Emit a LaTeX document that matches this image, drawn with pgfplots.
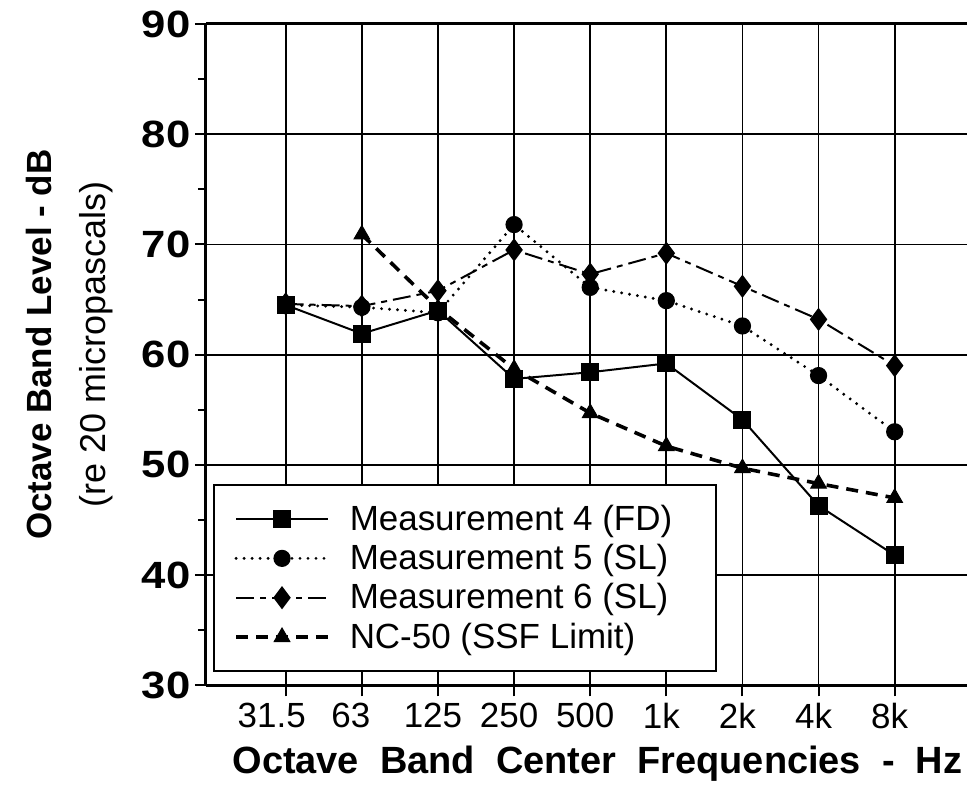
\documentclass[border=0pt]{standalone}
\usepackage{fontspec}
\setmainfont{Liberation Sans}
\usepackage{pgfplots}
\pgfplotsset{compat=1.18}

\begin{document}
\begin{tikzpicture}
\begin{axis}[
  scale only axis, width=381pt, height=331pt,
  xmin=-1.05, xmax=8.95, ymin=30, ymax=90,
  axis x line*=box, axis y line*=left,
  axis line style={line width=1.5pt},
  xtick={0,...,8},
  xticklabels={31.5\hspace*{9pt},63\hspace*{6pt},125,250,500,1k,2k,4k,8k},
  ytick={30,40,...,90}, minor ytick={35,45,...,85},
  xtick pos=left, ytick pos=left,
  tick align=outside, major tick length=5.5pt, minor tick length=4pt,
  tick style={black, line width=1pt},
  grid=major, grid style={black, line width=0.9pt},
  /pgf/number format/assume math mode=true,
  xticklabel style={font=\fontsize{17.5}{20}\selectfont, xshift=-2.5pt},
  yticklabel style={font=\fontsize{19}{20}\bfseries\selectfont, inner sep=2pt},
  yticklabel={\scalebox{1.15}[1]{\pgfmathprintnumber{\tick}}},
  xlabel={Octave\ \ Band\ \ Center\ \ Frequencies\ \ -\ \ Hz},
  xlabel style={font=\fontsize{19}{22}\bfseries\selectfont, at={(axis description cs:0.5145,0)},
    anchor=north, inner sep=0pt, yshift=-30pt},
  ylabel={\fontsize{17.5}{27}\bfseries\selectfont Octave Band Level - dB\\(re 20 micropascals)},
  ylabel style={font=\fontsize{18}{27}\selectfont, align=center, at={(axis description cs:-0.122,0.515)},
    anchor=south, inner sep=0pt},
  legend image code/.code={\draw[mark repeat=2,mark phase=2] plot coordinates {(0pt,0pt) (23pt,0pt) (46pt,0pt)};},
  legend cell align=left,
  legend style={at={(axis description cs:0.01,0.02)}, anchor=south west,
    draw=black, line width=0.9pt, fill=white, font=\fontsize{17.5}{20}\selectfont,
    row sep=1.5pt, column sep=8pt, inner xsep=10pt, inner ysep=8pt},
]
\addplot[black, line width=1pt, mark=square*, mark size=4pt]
  coordinates {(0,64.5) (1,61.9) (2,64.0) (3,57.8) (4,58.4) (5,59.2) (6,54.1) (7,46.3) (8,41.8)};
\addlegendentry{Measurement 4 (FD)\hspace*{10pt}}
\addplot[black, line width=1.6pt, line cap=round, dash pattern=on 0pt off 4pt, mark=*, mark size=3.5pt, mark options={solid}]
  coordinates {(0,64.5) (1,64.3) (2,63.8) (3,71.8) (4,66.1) (5,64.9) (6,62.6) (7,58.1) (8,53.0)};
\addlegendentry{Measurement 5 (SL)}
\addplot[black, line width=1pt, dash pattern=on 9pt off 3pt on 3pt off 3pt, mark=diamond*, mark size=5pt, mark options={solid}]
  coordinates {(0,64.6) (1,64.4) (2,65.8) (3,69.5) (4,67.3) (5,69.2) (6,66.2) (7,63.2) (8,59.0)};
\addlegendentry{Measurement 6 (SL)}
\addplot[black, line width=1.8pt, dash pattern=on 6pt off 4pt, mark=triangle*, mark size=4.5pt, mark options={solid, line width=0.5pt}]
  coordinates {(1,70.9) (2,64.2) (3,58.7) (4,54.7) (5,51.7) (6,49.7) (7,48.3) (8,47.0)};
\addlegendentry{NC-50 (SSF Limit)}
\coordinate (bl) at (rel axis cs:0,0);
\coordinate (tr) at (rel axis cs:1,1);
\end{axis}
\pgfresetboundingbox
\path[use as bounding box] ([xshift=-103pt, yshift=-58pt]bl) rectangle ([yshift=12pt]tr);
\end{tikzpicture}
\end{document}
